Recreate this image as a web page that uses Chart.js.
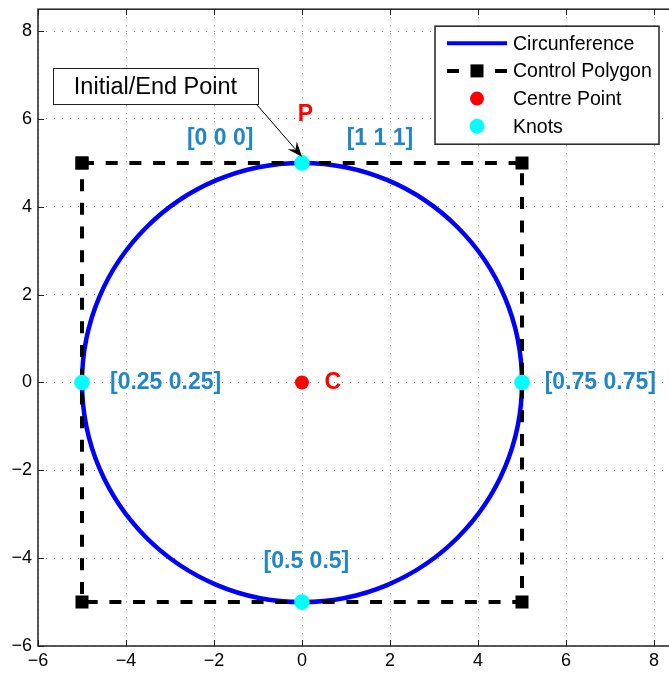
<!DOCTYPE html>
<html>
<head>
<meta charset="utf-8">
<script src="https://cdn.jsdelivr.net/npm/chart.js@4.4.1/dist/chart.umd.min.js"></script>
<style>
  html, body { margin: 0; padding: 0; background: #fff; overflow: hidden; }
  #wrap { width: 686px; height: 674px; }
</style>
</head>
<body>
<div id="wrap"><canvas id="chart" width="686" height="674"></canvas></div>
<script>
// data
const tickValues = [-6, -4, -2, 0, 2, 4, 6, 8];

const knotX = [0, -5, 0, 5];        // top, left, bottom, right
const knotY = [5, 0, -5, 0];
const knotNames = ['[0 0 0]', '[0.25 0.25]', '[0.5 0.5]', '[0.75 0.75]'];

const polyX = [-5, 5, 5, -5, -5];
const polyY = [5, 5, -5, -5, 5];

const centreX = [0];
const centreY = [0];

const seriesNames = ['Circunference', 'Control Polygon', 'Centre Point', 'Knots'];

// circle goes through the knots: wrap one knot each side so the
// spline has neighbours at the ends, then hide the two end segments
const circleIdx = [3, 0, 1, 2, 3, 0, 1];
const circlePts = circleIdx.map(i => ({ x: knotX[i], y: knotY[i] }));
const polyPts = polyX.map((x, i) => ({ x: x, y: polyY[i] }));
const knotPts = knotX.map((x, i) => ({ x: x, y: knotY[i] }));
const centrePts = centreX.map((x, i) => ({ x: x, y: centreY[i] }));

const FONT = '"Liberation Sans", Arial, Helvetica, sans-serif';
const LABEL_BLUE = '#1f86c8';

// text labels in data coordinates
const textLabels = [
    { text: 'P', x: 0.08, y: 6.11, color: '#ff0000' },
    { text: knotNames[0], x: -1.86, y: 5.56, color: LABEL_BLUE },
    { text: '[1 1 1]', x: 1.77, y: 5.56, color: LABEL_BLUE },
    { text: knotNames[1], x: -3.1, y: 0, color: LABEL_BLUE },
    { text: knotNames[3], x: 6.78, y: 0, color: LABEL_BLUE },
    { text: knotNames[2], x: 0.1, y: -4.07, color: LABEL_BLUE },
    { text: 'C', x: 0.7, y: 0, color: '#ff0000' }
];

const noteBox = { text: 'Initial/End Point', x0: -5.66, x1: -1.0, y0: 7.16, y1: 6.34 };
const noteArrow = { x0: -1.04, y0: 6.34, x1: 0, y1: 5.14 };

const lastSeg = circlePts.length - 1;

function fixTicks(scale) {
    scale.ticks = tickValues.map(v => ({ value: v }));
}

const frame = {
    id: 'frame',
    afterDatasetsDraw(chart) {
        const { ctx, scales: { x, y } } = chart;
        ctx.save();
        // text labels
        ctx.font = 'bold 23px ' + FONT;
        ctx.textAlign = 'center';
        ctx.textBaseline = 'middle';
        textLabels.forEach(l => {
            ctx.fillStyle = l.color;
            ctx.fillText(l.text, x.getPixelForValue(l.x), y.getPixelForValue(l.y));
        });

        // note box
        const bx0 = x.getPixelForValue(noteBox.x0), bx1 = x.getPixelForValue(noteBox.x1);
        const by0 = y.getPixelForValue(noteBox.y0), by1 = y.getPixelForValue(noteBox.y1);
        ctx.fillStyle = '#fff';
        ctx.fillRect(bx0, by0, bx1 - bx0, by1 - by0);
        ctx.strokeStyle = '#222';
        ctx.lineWidth = 1;
        ctx.strokeRect(Math.round(bx0) + 0.5, Math.round(by0) + 0.5, Math.round(bx1 - bx0), Math.round(by1 - by0));
        ctx.fillStyle = '#000';
        ctx.font = '23.5px ' + FONT;
        ctx.fillText(noteBox.text, (bx0 + bx1) / 2, (by0 + by1) / 2 + 1);

        // arrow
        const ax0 = x.getPixelForValue(noteArrow.x0), ay0 = y.getPixelForValue(noteArrow.y0);
        const ax1 = x.getPixelForValue(noteArrow.x1), ay1 = y.getPixelForValue(noteArrow.y1);
        const ang = Math.atan2(ay1 - ay0, ax1 - ax0);
        const head = 15, half = 6;
        ctx.strokeStyle = '#000';
        ctx.lineWidth = 1;
        ctx.beginPath();
        ctx.moveTo(ax0, ay0);
        ctx.lineTo(ax1 - Math.cos(ang) * head * 0.7, ay1 - Math.sin(ang) * head * 0.7);
        ctx.stroke();
        ctx.beginPath();
        ctx.moveTo(ax1, ay1);
        const bxh = ax1 - Math.cos(ang) * head, byh = ay1 - Math.sin(ang) * head;
        ctx.lineTo(bxh + Math.sin(ang) * half, byh - Math.cos(ang) * half);
        ctx.lineTo(ax1 - Math.cos(ang) * head * 0.65, ay1 - Math.sin(ang) * head * 0.65);
        ctx.lineTo(bxh - Math.sin(ang) * half, byh + Math.cos(ang) * half);
        ctx.closePath();
        ctx.fillStyle = '#000';
        ctx.fill();
        ctx.restore();
    },
    afterDraw(chart) {
        const { ctx, chartArea: a, scales: { x, y } } = chart;
        ctx.save();
        // inward tick marks on all four sides
        ctx.strokeStyle = '#222';
        ctx.lineWidth = 1;
        const tl = 6;
        ctx.beginPath();
        tickValues.forEach(v => {
            const px = Math.round(x.getPixelForValue(v)) + 0.5;
            ctx.moveTo(px, a.bottom); ctx.lineTo(px, a.bottom - tl);
            ctx.moveTo(px, a.top); ctx.lineTo(px, a.top + tl);
            const py = Math.round(y.getPixelForValue(v)) + 0.5;
            ctx.moveTo(a.left, py); ctx.lineTo(a.left + tl, py);
            ctx.moveTo(a.right, py); ctx.lineTo(a.right - tl, py);
        });
        ctx.stroke();
        // box
        ctx.lineWidth = 1.5;
        ctx.strokeRect(a.left, a.top, a.right - a.left, a.bottom - a.top);

        // legend
        const lw = 224, lh = 118;
        const lx = a.right - 17 - lw, ly = a.top + 17;
        ctx.fillStyle = '#fff';
        ctx.fillRect(lx, ly, lw, lh);
        ctx.strokeStyle = '#222';
        ctx.lineWidth = 1.5;
        ctx.strokeRect(lx, ly, lw, lh);
        const rowY = i => ly + 17 + i * 27.7;
        const sx0 = lx + 12, sx1 = lx + 72, smid = (sx0 + sx1) / 2;
        // circunference
        ctx.strokeStyle = '#0000ff';
        ctx.lineWidth = 4;
        ctx.beginPath(); ctx.moveTo(sx0, rowY(0)); ctx.lineTo(sx1, rowY(0)); ctx.stroke();
        // control polygon
        ctx.strokeStyle = '#000';
        ctx.beginPath();
        ctx.moveTo(sx0, rowY(1)); ctx.lineTo(sx0 + 12, rowY(1));
        ctx.moveTo(sx1 - 12, rowY(1)); ctx.lineTo(sx1, rowY(1));
        ctx.stroke();
        ctx.fillStyle = '#000';
        ctx.fillRect(smid - 6.5, rowY(1) - 6.5, 13, 13);
        // centre point
        ctx.fillStyle = '#ff0000';
        ctx.beginPath(); ctx.arc(smid, rowY(2), 7, 0, Math.PI * 2); ctx.fill();
        // knots
        ctx.fillStyle = '#00ffff';
        ctx.beginPath(); ctx.arc(smid, rowY(3), 7.5, 0, Math.PI * 2); ctx.fill();
        ctx.fillStyle = '#000';
        ctx.font = '19.5px ' + FONT;
        ctx.textAlign = 'left';
        ctx.textBaseline = 'middle';
        seriesNames.forEach((n, i) => ctx.fillText(n, lx + 78, rowY(i) + 1));
        ctx.restore();
    }
};

const axisCommon = {
    type: 'linear',
    min: -6,
    max: 8.5,
    afterBuildTicks: fixTicks,
    grid: { color: '#8a8a8a', lineWidth: 1, drawTicks: false },
    border: { display: false, dash: [1, 7] },
    ticks: {
        color: '#000',
        font: { family: FONT, size: 18 },
        callback: v => String(v).replace('-', '\u2212')
    }
};

new Chart(document.getElementById('chart'), {
    type: 'scatter',
    data: {
        datasets: [
            {
                label: seriesNames[0],
                data: circlePts,
                showLine: true,
                borderColor: '#0000ff',
                borderWidth: 4.5,
                tension: 0.5523,
                pointRadius: 0,
                order: 4,
                segment: {
                    borderColor: c => (c.p0DataIndex === 0 || c.p1DataIndex === lastSeg) ? 'rgba(0,0,0,0)' : undefined
                }
            },
            {
                label: seriesNames[1],
                data: polyPts,
                showLine: true,
                borderColor: '#000',
                borderWidth: 4,
                borderDash: [12, 11.7],
                tension: 0,
                pointStyle: 'rect',
                pointRadius: 9.2,
                pointBackgroundColor: '#000',
                pointBorderWidth: 0,
                order: 3
            },
            {
                label: seriesNames[2],
                data: centrePts,
                pointRadius: 7,
                pointBackgroundColor: '#ff0000',
                pointBorderWidth: 0,
                order: 2
            },
            {
                label: seriesNames[3],
                data: knotPts,
                pointRadius: 7.8,
                pointBackgroundColor: '#00ffff',
                pointBorderWidth: 0,
                order: 1
            }
        ]
    },
    options: {
        responsive: false,
        animation: false,
        layout: { padding: { top: 8, right: 10, left: 0, bottom: 0 } },
        plugins: {
            legend: { display: false },
            tooltip: { enabled: false }
        },
        scales: {
            x: Object.assign({}, axisCommon, {
                position: 'bottom',
                ticks: Object.assign({}, axisCommon.ticks, { padding: 4, maxRotation: 0 }),
                afterFit: s => { s.height = 28; s.paddingLeft = 0; s.paddingRight = 0; }
            }),
            y: Object.assign({}, axisCommon, {
                position: 'left',
                ticks: Object.assign({}, axisCommon.ticks, { padding: 6 }),
                afterFit: s => { s.width = 38; s.paddingTop = 0; s.paddingBottom = 0; }
            })
        }
    },
    plugins: [frame]
});
</script>
</body>
</html>
